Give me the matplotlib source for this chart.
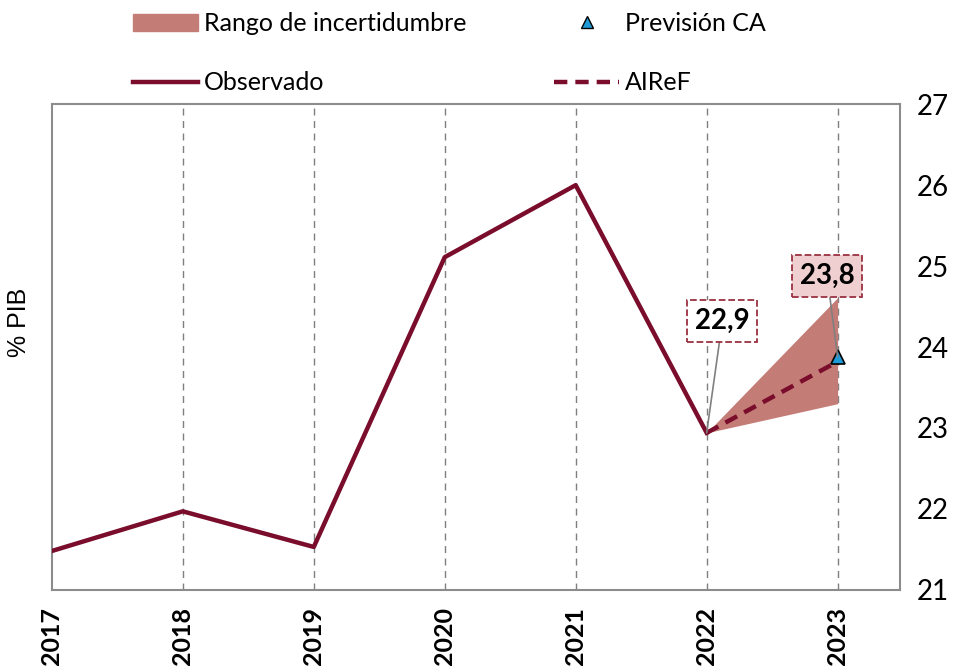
import numpy as np
import matplotlib.pyplot as plt
from matplotlib.patches import Patch
from matplotlib.lines import Line2D

# datos (% PIB)
years = [2017, 2018, 2019, 2020, 2021, 2022]
observado = [21.48, 21.97, 21.53, 25.11, 26.0, 22.94]
airef_years = [2022, 2023]
airef = [22.94, 23.82]
rango_lo = [22.94, 23.30]
rango_hi = [22.94, 24.61]
prevision_year = 2023
prevision_ca = 23.88
xticks = [2017, 2018, 2019, 2020, 2021, 2022, 2023]
yticks = [21, 22, 23, 24, 25, 26, 27]

maroon = '#7a0d2c'
band = '#c47c76'
font = 'Lato'

fig = plt.figure(figsize=(9.6, 6.68), dpi=100)
ax = fig.add_axes([0.054, 0.117, 0.884, 0.727])

ax.fill_between(airef_years, rango_lo, rango_hi, color=band, lw=0, zorder=2)
ax.plot(years, observado, color=maroon, lw=3.2, zorder=3)
ax.plot(airef_years, airef, color=maroon, lw=3.2, ls=(0, (3, 1.8)), zorder=3)
ax.plot([prevision_year], [prevision_ca], marker='^', ms=10, color='#1e9bd7',
        mec='black', mew=1.2, ls='none', zorder=5)

for x in xticks[1:]:
    ax.axvline(x, color='#7f7f7f', lw=1, ls=(0, (5, 4)), zorder=1)

ax.set_xlim(2017, 2023.48)
ax.set_ylim(21, 27)
ax.set_xticks(xticks)
ax.set_xticklabels([str(y) for y in xticks], rotation=90, fontsize=18,
                   family=font, fontweight='bold')
ax.yaxis.tick_right()
ax.set_yticks(yticks)
ax.set_yticklabels([str(y) for y in yticks], fontsize=20, family=font)
ax.tick_params(length=0, pad=12)
for s in ax.spines.values():
    s.set_color('#8c8c8c')
    s.set_linewidth(1.5)
ax.set_ylabel('% PIB', fontsize=18, family='Liberation Sans')
ax.yaxis.set_label_coords(-0.025, 0.55)

# etiquetas
ax.annotate('22,9', xy=(2022, observado[-1]), xytext=(2022.12, 24.32),
            ha='center', va='center', fontsize=20, fontweight='bold', family=font,
            bbox=dict(boxstyle='square,pad=0.28', fc='white', ec='#9a3040', ls='--', lw=1.3),
            arrowprops=dict(arrowstyle='-', color='#808080', lw=1.2,
                            shrinkA=0, shrinkB=0), zorder=6)
ax.annotate('23,8', xy=(prevision_year, prevision_ca), xytext=(2022.92, 24.88),
            ha='center', va='center', fontsize=20, fontweight='bold', family=font,
            bbox=dict(boxstyle='square,pad=0.28', fc='#efcfd0', ec='#9a3040', ls='--', lw=1.3),
            arrowprops=dict(arrowstyle='-', color='#808080', lw=1.2,
                            shrinkA=0, shrinkB=0), zorder=6)

handles = [Patch(color=band), Line2D([], [], color=maroon, lw=3.2),
           Line2D([], [], marker='^', ms=9, color='#1e9bd7', mec='black', ls='none'),
           Line2D([], [], color=maroon, lw=3.2, ls=(0, (3, 1.8)))]
labels = ['Rango de incertidumbre', 'Observado', 'Previsión CA', 'AIReF']
fig.legend(handles, labels, ncol=2, loc='upper left', bbox_to_anchor=(0.128, 0.997),
           frameon=False, prop={'family': font, 'size': 18}, handlelength=2.6,
           handletextpad=0.25, columnspacing=3.5, labelspacing=1.45, borderaxespad=0)

fig.savefig('out.png', dpi=100)
